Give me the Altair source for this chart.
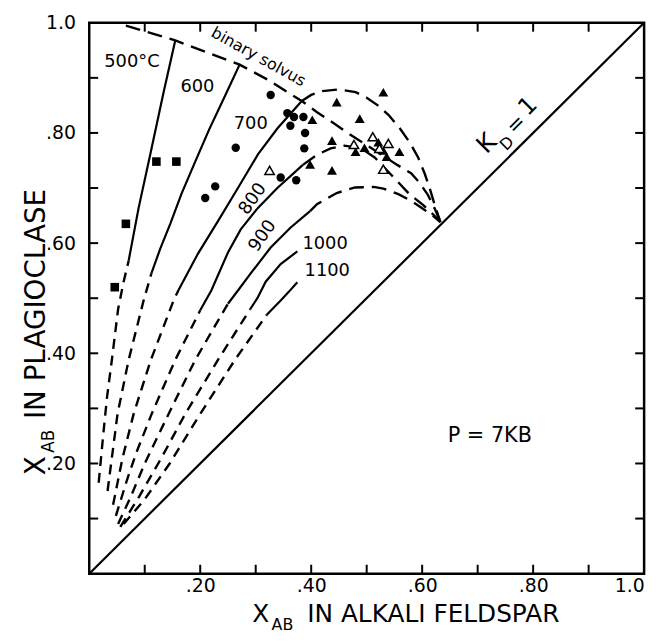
import altair as alt
import pandas as pd

FONT = "DejaVu Sans"
W, H = 560, 556

# ---------------- data ----------------
# isotherms: lower (dashed) and upper (solid) parts, (X_ab alkali feldspar, X_ab plagioclase)
t500_lo = [(0.017, 0.165), (0.025, 0.25), (0.032, 0.32), (0.041, 0.39), (0.052, 0.48), (0.062, 0.53), (0.071, 0.568)]
t500_hi = [(0.071, 0.568), (0.089, 0.664), (0.111, 0.766), (0.134, 0.874), (0.155, 0.968)]
t600_lo = [(0.033, 0.15), (0.042, 0.22), (0.051, 0.29), (0.071, 0.388), (0.098, 0.496), (0.112, 0.545)]
t600_hi = [(0.112, 0.545), (0.128, 0.59), (0.146, 0.635), (0.166, 0.689), (0.191, 0.748), (0.216, 0.806), (0.245, 0.868), (0.271, 0.924)]
t700_lo = [(0.043, 0.125), (0.06, 0.21), (0.08, 0.29), (0.111, 0.388), (0.152, 0.496), (0.161, 0.515)]
t700_hi = [(0.161, 0.515), (0.196, 0.581), (0.232, 0.64), (0.268, 0.70), (0.304, 0.761), (0.339, 0.808), (0.383, 0.858)]
t800_lo = [(0.048, 0.105), (0.068, 0.17), (0.085, 0.22), (0.1125, 0.29), (0.155, 0.388), (0.2, 0.478)]
t800_hi = [(0.2, 0.478), (0.22, 0.514), (0.25, 0.583), (0.273, 0.625), (0.304, 0.664), (0.339, 0.70), (0.385, 0.742)]
t900_lo = [(0.052, 0.09), (0.075, 0.14), (0.1, 0.2), (0.143, 0.29), (0.191, 0.388), (0.25, 0.49)]
t900_hi = [(0.25, 0.49), (0.268, 0.514), (0.291, 0.545), (0.327, 0.592), (0.3625, 0.628), (0.398, 0.658)]
t1000_lo = [(0.056, 0.085), (0.09, 0.14), (0.13, 0.21), (0.173, 0.29), (0.232, 0.388), (0.29, 0.48)]
t1000_hi = [(0.29, 0.48), (0.303, 0.50), (0.318, 0.53), (0.345, 0.562), (0.375, 0.585)]
t1100_lo = [(0.062, 0.09), (0.10, 0.135), (0.145, 0.2), (0.2, 0.29), (0.2625, 0.388), (0.32, 0.47)]
t1100_hi = [(0.32, 0.47), (0.345, 0.496), (0.36, 0.512), (0.375, 0.529)]

# dashed continuations beyond the solvus, converging on K_D = 1
t700_dome = [(0.383, 0.858), (0.40, 0.869), (0.42, 0.876), (0.45, 0.879), (0.48, 0.874), (0.50, 0.864), (0.52, 0.85),
             (0.54, 0.832), (0.56, 0.808), (0.578, 0.782), (0.593, 0.755), (0.605, 0.725), (0.615, 0.695),
             (0.623, 0.668), (0.629, 0.65), (0.633, 0.638)]
t800_dome = [(0.385, 0.742), (0.41, 0.76), (0.435, 0.772), (0.46, 0.777), (0.49, 0.772), (0.515, 0.755), (0.548, 0.72),
             (0.577, 0.689), (0.602, 0.669), (0.62, 0.652), (0.633, 0.638)]
t900_dome = [(0.398, 0.658), (0.411, 0.671), (0.446, 0.691), (0.479, 0.701), (0.5125, 0.702), (0.53, 0.699),
             (0.557, 0.689), (0.58, 0.677), (0.602, 0.662), (0.62, 0.649), (0.633, 0.638)]
binary_solvus = [(0.066, 0.995), (0.155, 0.968), (0.271, 0.924), (0.321, 0.897), (0.383, 0.858), (0.41, 0.838),
                 (0.44, 0.818), (0.47, 0.797), (0.52, 0.765), (0.555, 0.742), (0.58, 0.727), (0.595, 0.71),
                 (0.61, 0.688), (0.622, 0.664), (0.633, 0.638)]

diag_x = [0.0, 1.0]
diag_y = [0.0, 1.0]

# sample points
sq_x = [0.046, 0.066, 0.121, 0.157]
sq_y = [0.52, 0.635, 0.748, 0.748]
circ_x = [0.327, 0.357, 0.369, 0.386, 0.3625, 0.389, 0.3875, 0.264, 0.227, 0.209, 0.345, 0.373]
circ_y = [0.869, 0.836, 0.829, 0.829, 0.813, 0.800, 0.772, 0.773, 0.703, 0.682, 0.719, 0.714]
tri_x = [0.530, 0.446, 0.402, 0.4875, 0.4375, 0.398, 0.4375, 0.480, 0.496, 0.521, 0.53, 0.536, 0.559]
tri_y = [0.874, 0.856, 0.824, 0.826, 0.786, 0.743, 0.732, 0.766, 0.773, 0.783, 0.768, 0.757, 0.766]
open_x = [0.477, 0.511, 0.523, 0.539, 0.530, 0.325]
open_y = [0.779, 0.793, 0.772, 0.781, 0.734, 0.732]

# labels
iso_text = ["500°C", "600", "700", "800", "900", "1000", "1100"]
iso_lx = [0.077, 0.195, 0.291, 0.295, 0.3125, 0.425, 0.429]
iso_ly = [0.928, 0.883, 0.817, 0.680, 0.613, 0.599, 0.549]
iso_ang = [0, 0, 0, 305, 305, 0, 0]

kd_text = ["K", "D", "=", "1"]
kd_x = [0.716, 0.753, 0.770, 0.791]
kd_y = [0.781, 0.781, 0.815, 0.848]
kd_size = [25, 16, 21, 24]

tick_vals = [0.1, 0.2, 0.3, 0.4, 0.5, 0.6, 0.7, 0.8, 0.9]
label_vals = [0.2, 0.4, 0.6, 0.8, 1.0]
label_text = [".20", ".40", ".60", ".80", "1.0"]

# ---------------- build tables ----------------
def curve_df(name, pts):
    return pd.DataFrame({"x": [p[0] for p in pts], "y": [p[1] for p in pts],
                         "curve": name, "order": list(range(len(pts)))})

solid_df = pd.concat([curve_df("500", t500_hi), curve_df("600", t600_hi), curve_df("700", t700_hi),
                      curve_df("800", t800_hi), curve_df("900", t900_hi), curve_df("1000", t1000_hi),
                      curve_df("1100", t1100_hi)])
short_df = pd.concat([curve_df("500", t500_lo), curve_df("600", t600_lo), curve_df("700", t700_lo),
                      curve_df("800", t800_lo), curve_df("900", t900_lo), curve_df("1000", t1000_lo),
                      curve_df("1100", t1100_lo)])
long_df = pd.concat([curve_df("d700", t700_dome), curve_df("d800", t800_dome), curve_df("d900", t900_dome),
                     curve_df("solvus", binary_solvus)])
diag_df = pd.DataFrame({"x": diag_x, "y": diag_y})

expr_parts = " : ".join(
    f"format(datum.value,'.1f') == '{v:.1f}' ? '{t}'" for v, t in zip(label_vals, label_text)
)
label_expr = expr_parts + " : ''"

xs = alt.Scale(domain=[0, 1], nice=False, zero=False)
ys = alt.Scale(domain=[0, 1], nice=False, zero=False)
x_axis = alt.Axis(values=label_vals, labelExpr=label_expr, ticks=False, domain=False, grid=False,
                  title=None, labelFont=FONT, labelFontSize=19, labelColor="black", labelPadding=3)
y_axis = alt.Axis(values=label_vals, labelExpr=label_expr, ticks=False, domain=False, grid=False,
                  title=None, labelFont=FONT, labelFontSize=19, labelColor="black", labelPadding=14)
X = alt.X("x:Q", scale=xs, axis=x_axis)
Y = alt.Y("y:Q", scale=ys, axis=y_axis)

diag = alt.Chart(diag_df).mark_line(color="black", strokeWidth=2.2).encode(x=X, y=Y)

solid = alt.Chart(solid_df).mark_line(color="black", strokeWidth=2.2).encode(
    x=X, y=Y, detail="curve:N", order="order:Q")
short = alt.Chart(short_df).mark_line(color="black", strokeWidth=2.4, strokeDash=[10, 7]).encode(
    x=X, y=Y, detail="curve:N", order="order:Q")
long = alt.Chart(long_df).mark_line(color="black", strokeWidth=2.4, strokeDash=[15, 8]).encode(
    x=X, y=Y, detail="curve:N", order="order:Q")

pts_sq = alt.Chart(pd.DataFrame({"x": sq_x, "y": sq_y})).mark_point(
    shape="square", filled=True, color="black", size=75, opacity=1).encode(x=X, y=Y)
pts_c = alt.Chart(pd.DataFrame({"x": circ_x, "y": circ_y})).mark_point(
    shape="circle", filled=True, color="black", size=72, opacity=1).encode(x=X, y=Y)
pts_t = alt.Chart(pd.DataFrame({"x": tri_x, "y": tri_y})).mark_point(
    shape="triangle-up", filled=True, color="black", size=100, opacity=1).encode(x=X, y=Y)
pts_o = alt.Chart(pd.DataFrame({"x": open_x, "y": open_y})).mark_point(
    shape="triangle-up", filled=True, fill="white", stroke="black", strokeWidth=1.5, size=90,
    opacity=1).encode(x=X, y=Y)

iso_labels = alt.Chart(pd.DataFrame({"x": iso_lx, "y": iso_ly, "t": iso_text, "a": iso_ang})).mark_text(
    font=FONT, fontSize=18, color="black").encode(x=X, y=Y, text="t:N", angle=alt.Angle("a:Q", scale=None))

kd_labels = alt.Chart(pd.DataFrame({"x": kd_x, "y": kd_y, "t": kd_text, "s": kd_size})).mark_text(
    font=FONT, color="black", angle=315).encode(x=X, y=Y, text="t:N", size=alt.Size("s:Q", scale=None))

solvus_label = alt.Chart(pd.DataFrame({"x": [0.305], "y": [0.938], "t": ["binary solvus"]})).mark_text(
    font=FONT, fontSize=16, color="black", angle=29).encode(x=X, y=Y, text="t:N")

p_label = alt.Chart(pd.DataFrame({"x": [0.722], "y": [0.25], "t": ["P = 7KB"]})).mark_text(
    font=FONT, fontSize=21, color="black").encode(x=X, y=Y, text="t:N")

# inward ticks on all four sides
tick_df = pd.DataFrame({"v": tick_vals})
TX = alt.X("v:Q", scale=xs, axis=x_axis)
TY = alt.Y("v:Q", scale=ys, axis=y_axis)
tk_b = alt.Chart(tick_df).mark_rule(color="black", strokeWidth=2).encode(x=TX, y=alt.value(H), y2=alt.value(H - 9))
tk_t = alt.Chart(tick_df).mark_rule(color="black", strokeWidth=2).encode(x=TX, y=alt.value(0), y2=alt.value(9))
tk_l = alt.Chart(tick_df).mark_rule(color="black", strokeWidth=2).encode(y=TY, x=alt.value(0), x2=alt.value(9))
tk_r = alt.Chart(tick_df).mark_rule(color="black", strokeWidth=2).encode(y=TY, x=alt.value(W), x2=alt.value(W - 9))

# axis titles with subscripts
one = pd.DataFrame({"k": [0]})
xt_main = alt.Chart(one).mark_text(font=FONT, fontSize=25, color="black", align="center", baseline="alphabetic").encode(
    x=alt.value(173), y=alt.value(605), text=alt.value("X"))
xt_sub = alt.Chart(one).mark_text(font=FONT, fontSize=16, color="black", align="left", baseline="alphabetic").encode(
    x=alt.value(184), y=alt.value(613), text=alt.value("AB"))
xt_rest = alt.Chart(one).mark_text(font=FONT, fontSize=25, color="black", align="left", baseline="alphabetic").encode(
    x=alt.value(220), y=alt.value(605), text=alt.value("IN ALKALI FELDSPAR"))
yt_main = alt.Chart(one).mark_text(font=FONT, fontSize=28, color="black", align="center", baseline="alphabetic",
                                   angle=270).encode(x=alt.value(-45), y=alt.value(447), text=alt.value("X"))
yt_sub = alt.Chart(one).mark_text(font=FONT, fontSize=17, color="black", align="left", baseline="alphabetic",
                                  angle=270).encode(x=alt.value(-36), y=alt.value(434), text=alt.value("AB"))
yt_rest = alt.Chart(one).mark_text(font=FONT, fontSize=28, color="black", align="left", baseline="alphabetic",
                                   angle=270).encode(x=alt.value(-45), y=alt.value(400), text=alt.value("IN PLAGIOCLASE"))

chart = alt.layer(
    diag, solid, short, long, pts_sq, pts_c, pts_t, pts_o, iso_labels, kd_labels, solvus_label, p_label,
    tk_b, tk_t, tk_l, tk_r, xt_main, xt_sub, xt_rest, yt_main, yt_sub, yt_rest
).properties(
    width=W, height=H,
    autosize=alt.AutoSizeParams(type="none"),
    padding={"left": 82, "top": 12, "right": 12, "bottom": 58},
    background="white",
).configure_view(stroke="black", strokeWidth=2.5)

chart.save("out.html", embed_options={"renderer": "svg", "actions": False})
